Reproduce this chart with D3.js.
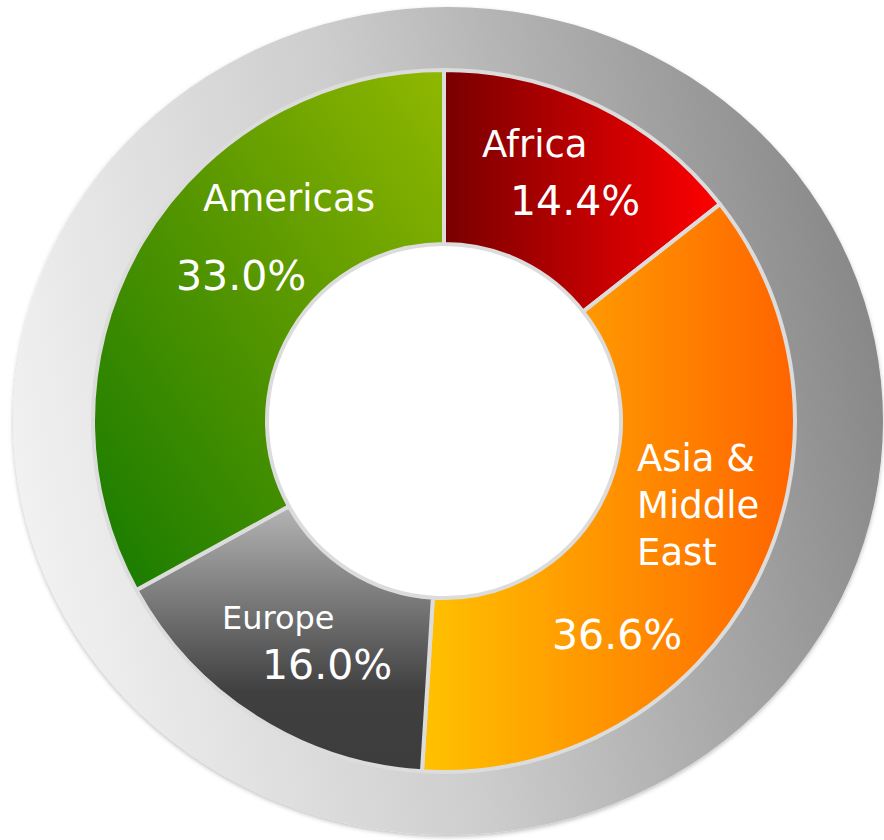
<!DOCTYPE html>
<html>
<head>
<meta charset="utf-8">
<script src="https://cdn.jsdelivr.net/npm/d3@7"></script>
<style>
  html, body { margin: 0; padding: 0; background: #fff; }
  svg { display: block; }
  .lbl { fill: #fff; font-family: "DejaVu Sans", Verdana, sans-serif; }
</style>
</head>
<body>
<div id="chart"></div>
<script>
'use strict';

// data
const regions = ['Africa', 'Asia & Middle East', 'Europe', 'Americas'];
const shares = [14.4, 36.6, 16.0, 33.0];
const shareLabels = ['14.4%', '36.6%', '16.0%', '33.0%'];

// label layout (name lines + value), in pixels
const nameLines = [['Africa'], ['Asia &', 'Middle', 'East'], ['Europe'], ['Americas']];
const namePos = [[482, 157], [637, 471], [222, 629], [203, 211]];
const nameSize = [37, 37, 32, 37];
const valuePos = [[510, 215], [552, 649], [262, 679], [176, 290]];

const width = 884, height = 840;
const cx = 444, cy = 421;
const rInner = 177, rOuter = 351;

const svg = d3.select('#chart').append('svg')
    .attr('width', width)
    .attr('height', height);

const defs = svg.append('defs');

function linGrad(id, x1, y1, x2, y2, stops) {
  const g = defs.append('linearGradient').attr('id', id)
      .attr('x1', x1).attr('y1', y1).attr('x2', x2).attr('y2', y2);
  stops.forEach(s => g.append('stop').attr('offset', s[0]).attr('stop-color', s[1]));
}

linGrad('ring', '0%', '60%', '100%', '40%', [[0, '#f2f2f2'], [0.45, '#cdcdcd'], [1, '#878787']]);
linGrad('g0', '0%', '0%', '100%', '0%', [[0, '#780000'], [1, '#ff0000']]);
linGrad('g1', '0%', '0%', '100%', '0%', [[0, '#ffc200'], [1, '#ff6400']]);
linGrad('g2', '0%', '0%', '0%', '100%', [[0, '#b4b4b4'], [0.7, '#404040'], [1, '#3c3c3c']]);
linGrad('g3', '0%', '100%', '100%', '0%', [[0, '#157a00'], [0.55, '#5a9800'], [1, '#90b800']]);

const shadow = defs.append('filter').attr('id', 'sh')
    .attr('x', '-5%').attr('y', '-5%').attr('width', '110%').attr('height', '112%');
shadow.append('feDropShadow').attr('dx', 0).attr('dy', 2).attr('stdDeviation', 2)
    .attr('flood-color', '#000').attr('flood-opacity', 0.25);

// outer gray ring
svg.append('ellipse')
    .attr('cx', 448).attr('cy', cy)
    .attr('rx', 435).attr('ry', 414)
    .attr('fill', 'url(#ring)')
    .attr('filter', 'url(#sh)');

const pie = d3.pie().sort(null).value(d => d)(shares);

const arc = d3.arc()
    .innerRadius(rInner)
    .outerRadius(rOuter);

const g = svg.append('g').attr('transform', `translate(${cx},${cy})`);

// white hole in the middle
g.append('circle')
    .attr('r', rInner)
    .attr('fill', '#fff');

g.selectAll('path.seg')
    .data(pie)
    .enter()
    .append('path')
    .attr('class', 'seg')
    .attr('d', arc)
    .attr('fill', (d, i) => `url(#g${i})`)
    .attr('stroke', '#dcdcdc')
    .attr('stroke-width', 4)
    .attr('stroke-linejoin', 'round');

// labels
const lbl = svg.append('g');
regions.forEach((r, i) => {
  const t = lbl.append('text')
      .attr('class', 'lbl')
      .attr('x', namePos[i][0])
      .attr('y', namePos[i][1])
      .style('font-size', nameSize[i] + 'px');
  nameLines[i].forEach((line, j) => {
    t.append('tspan')
        .attr('x', namePos[i][0])
        .attr('dy', j === 0 ? 0 : 47)
        .text(line);
  });
  lbl.append('text')
      .attr('class', 'lbl')
      .attr('x', valuePos[i][0])
      .attr('y', valuePos[i][1])
      .style('font-size', '41px')
      .text(shareLabels[i]);
});
</script>
</body>
</html>
